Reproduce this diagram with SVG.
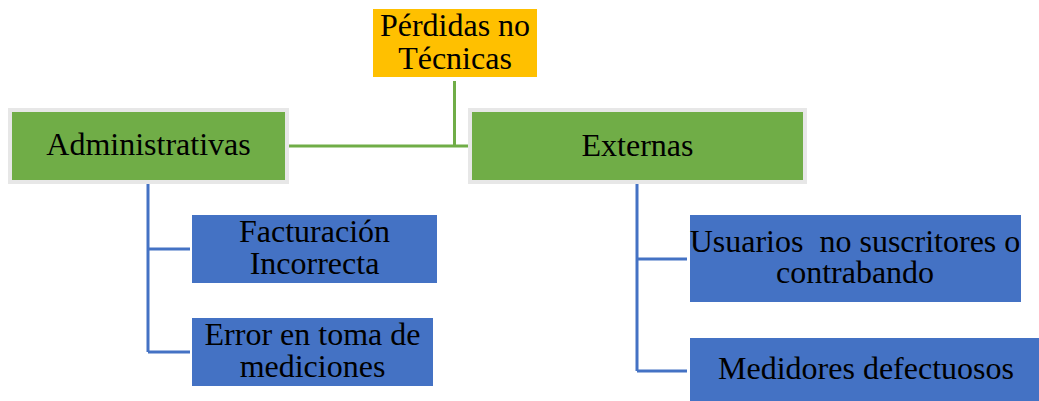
<svg xmlns="http://www.w3.org/2000/svg" width="1039" height="401" viewBox="0 0 1039 401">
<style>
text{font-family:"Liberation Serif","Times New Roman",serif;font-size:32px;fill:#000;text-anchor:middle;white-space:pre}
.top{fill:#FFC000}
.mid{fill:#70AD47;stroke:#E7E7E7;stroke-width:4}
.leaf{fill:#4472C4}
.g{stroke:#70AD47;stroke-width:3;fill:none}
.b{stroke:#4472C4;stroke-width:3;fill:none}
</style>
<rect width="1039" height="401" fill="#fff"/>
<g id="connectors">
<path class="g" d="M454.5 81V146M289 146H468"/>
<path class="b" d="M148 184V352M148 249H190M148 352H190"/>
<path class="b" d="M637 184V371M637 259H687M637 371H687"/>
</g>
<g id="perdidas">
<rect class="top" x="373" y="9" width="164" height="68"/>
<text x="455" y="36">Pérdidas no</text>
<text x="455" y="68.5">Técnicas</text>
</g>
<g id="administrativas">
<rect class="mid" x="10" y="110" width="277" height="72"/>
<text x="148.5" y="155">Administrativas</text>
</g>
<g id="externas">
<rect class="mid" x="470" y="110" width="335" height="72"/>
<text x="637.5" y="156">Externas</text>
</g>
<g id="facturacion">
<rect class="leaf" x="192" y="215" width="245" height="68"/>
<text x="314.5" y="242">Facturación</text>
<text x="314.5" y="274">Incorrecta</text>
</g>
<g id="error">
<rect class="leaf" x="192" y="318" width="241" height="68"/>
<text x="312.5" y="345">Error en toma de</text>
<text x="312.5" y="377">mediciones</text>
</g>
<g id="usuarios">
<rect class="leaf" x="690" y="215" width="331" height="87"/>
<text x="855" y="252">Usuarios  no suscritores o</text>
<text x="855" y="282.5">contrabando</text>
</g>
<g id="medidores">
<rect class="leaf" x="690" y="338" width="349" height="63"/>
<text x="866" y="379">Medidores defectuosos</text>
</g>
</svg>
